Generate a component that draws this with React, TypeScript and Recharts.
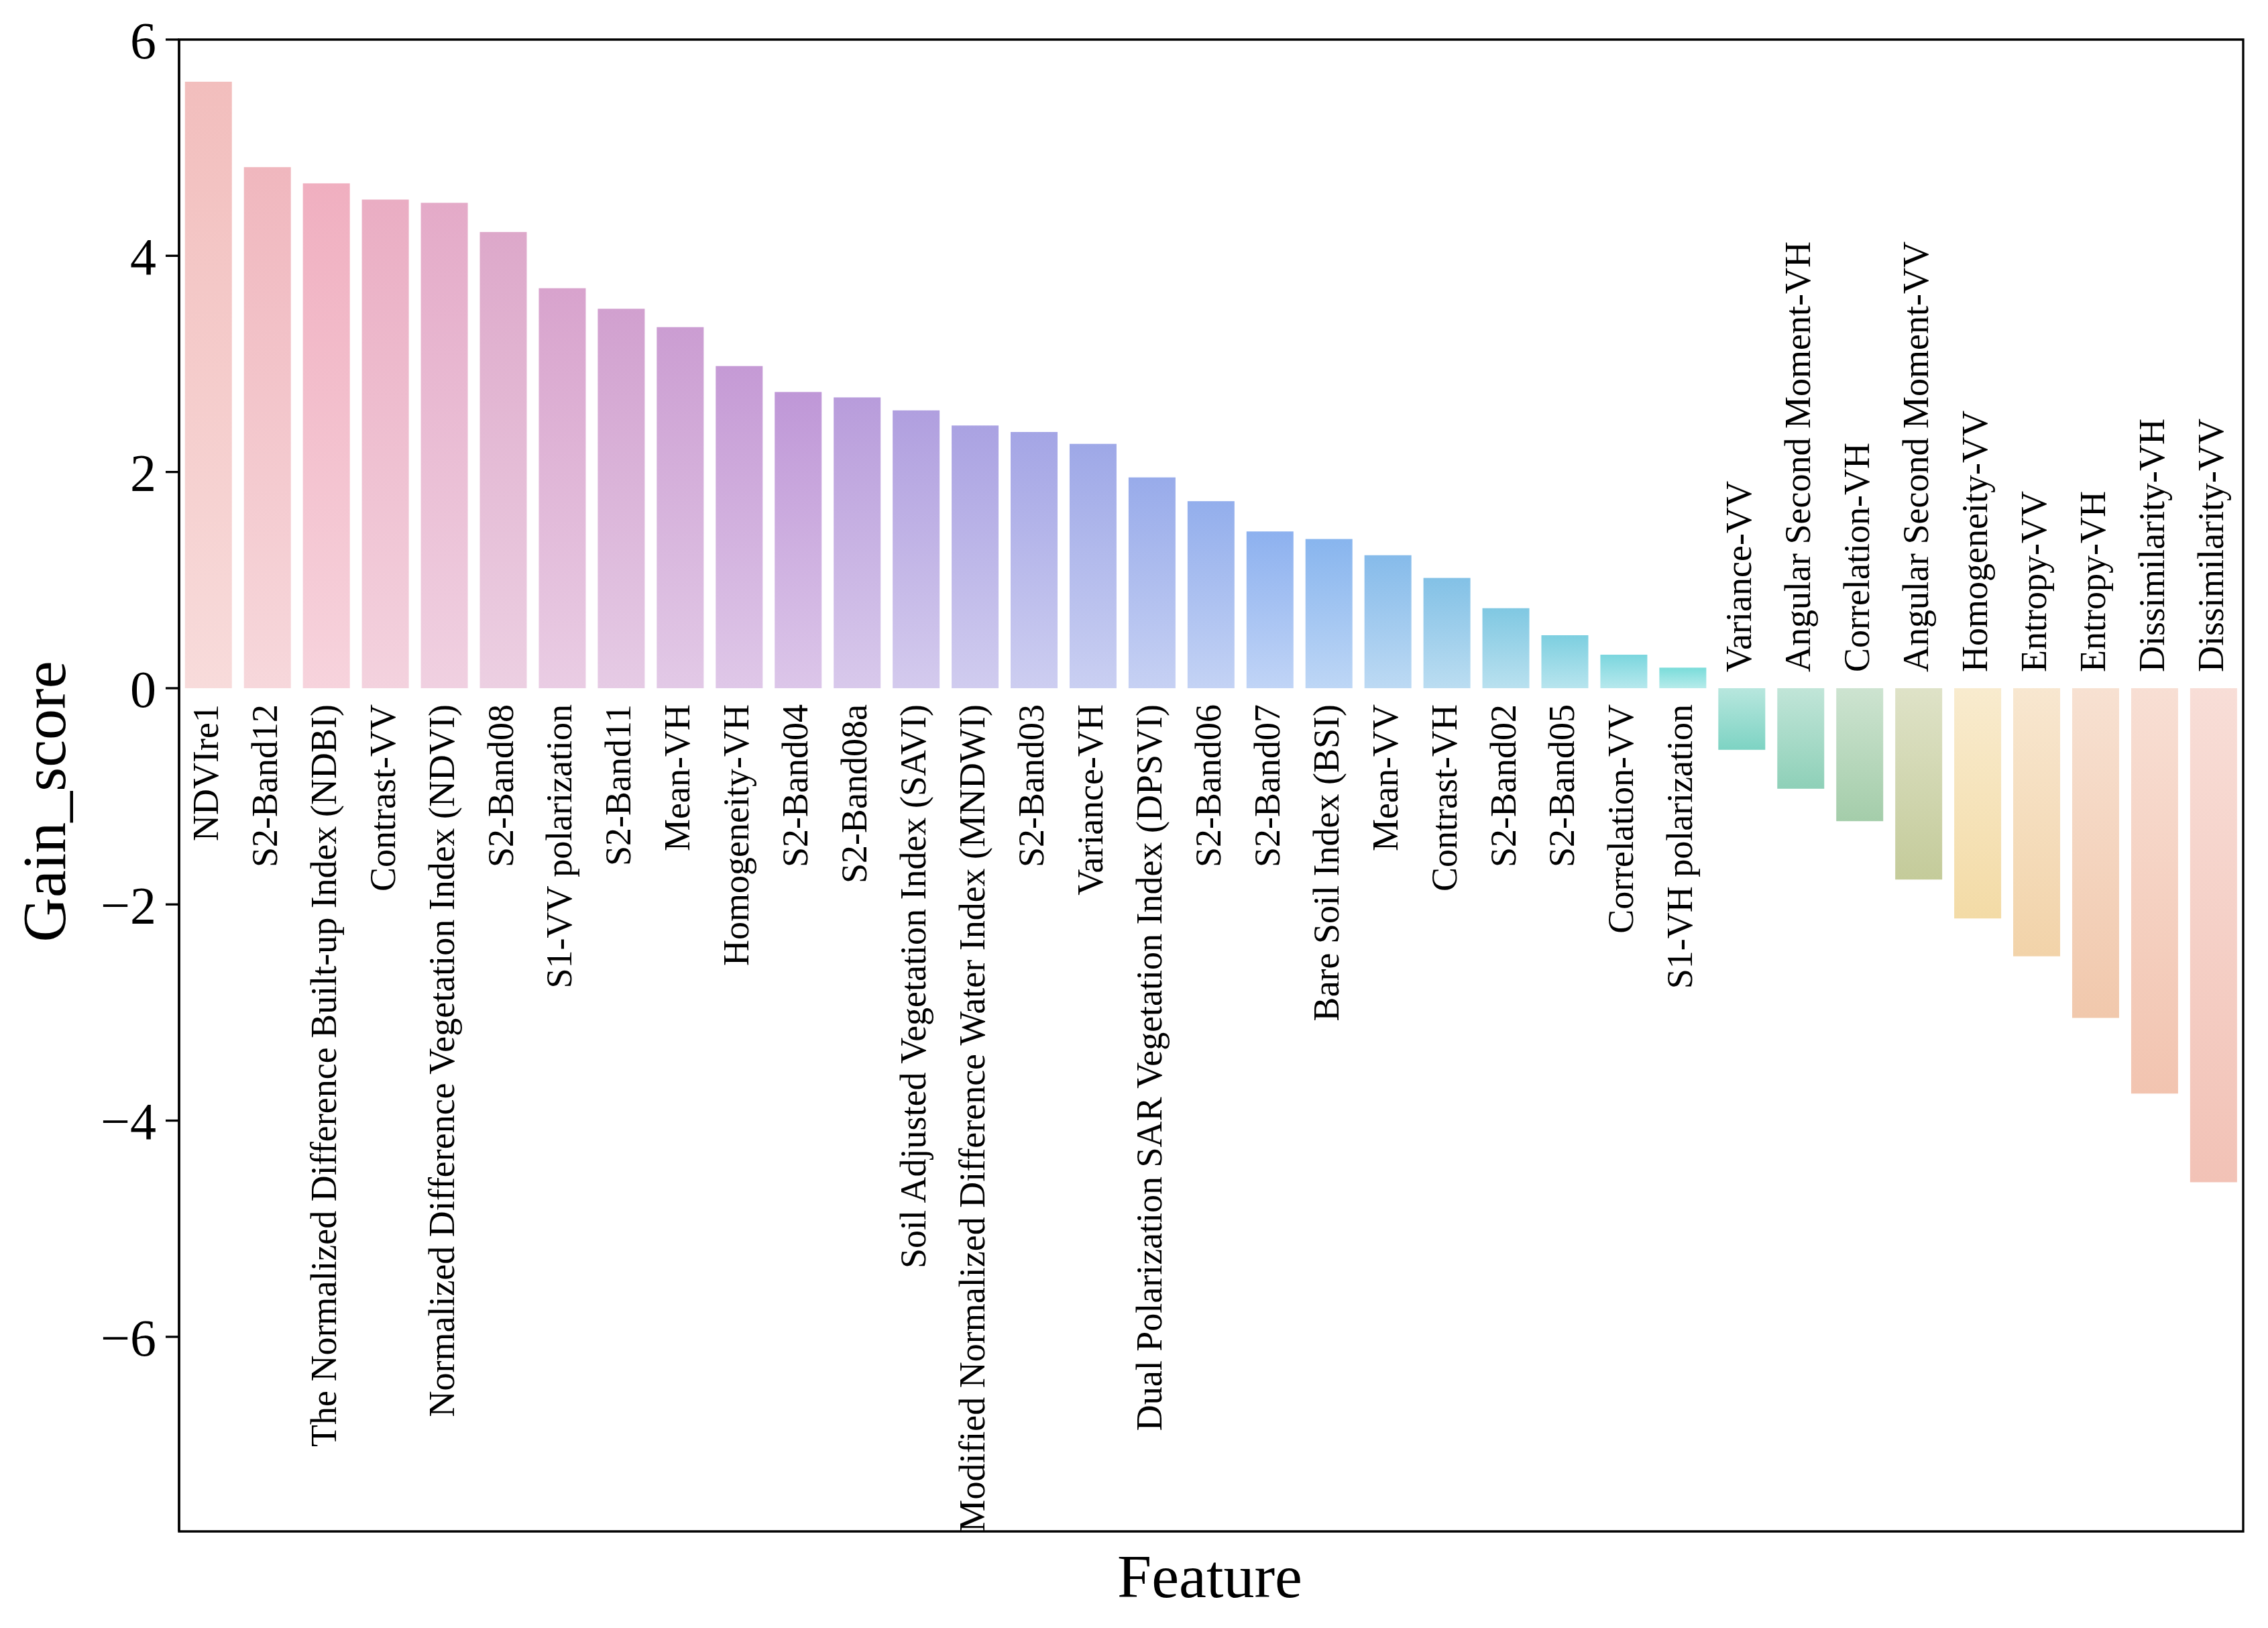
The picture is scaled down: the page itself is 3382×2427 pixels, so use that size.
import React from "react";
import { BarChart, Bar, XAxis, YAxis, ReferenceArea } from "recharts";

const FEATURES = [
  "NDVIre1",
  "S2-Band12",
  "The Normalized Difference Built-up Index (NDBI)",
  "Contrast-VV",
  "Normalized Difference Vegetation Index (NDVI)",
  "S2-Band08",
  "S1-VV polarization",
  "S2-Band11",
  "Mean-VH",
  "Homogeneity-VH",
  "S2-Band04",
  "S2-Band08a",
  "Soil Adjusted Vegetation Index (SAVI)",
  "Modified Normalized Difference Water Index (MNDWI)",
  "S2-Band03",
  "Variance-VH",
  "Dual Polarization SAR Vegetation Index (DPSVI)",
  "S2-Band06",
  "S2-Band07",
  "Bare Soil Index (BSI)",
  "Mean-VV",
  "Contrast-VH",
  "S2-Band02",
  "S2-Band05",
  "Correlation-VV",
  "S1-VH polarization",
  "Variance-VV",
  "Angular Second Moment-VH",
  "Correlation-VH",
  "Angular Second Moment-VV",
  "Homogeneity-VV",
  "Entropy-VV",
  "Entropy-VH",
  "Dissimilarity-VH",
  "Dissimilarity-VV",
];

const GAINS = [
  5.61, 4.82, 4.67, 4.52, 4.49, 4.22, 3.7, 3.51, 3.34, 2.98, 2.74, 2.69, 2.57, 2.43, 2.37, 2.26,
  1.95, 1.73, 1.45, 1.38, 1.23, 1.02, 0.74, 0.49, 0.31, 0.19, -0.57, -0.93, -1.23, -1.77, -2.13,
  -2.48, -3.05, -3.75, -4.57,
];

// colour at the outer end of each bar (fades toward the zero line)
const COLORS = [
  "#F2BEBD", "#F0B7BE", "#F0AFC0", "#EAADC3", "#E4AAC8", "#DDA8CA", "#D8A3CD", "#D1A0CF",
  "#CB9DD2", "#C59AD5", "#BF97D7", "#B89CDB", "#B09FDF", "#AAA2E2", "#A4A5E5", "#9EA8E7",
  "#98ABEA", "#93AEEC", "#8DB1EF", "#88B5EE", "#86BBEA", "#83C1E6", "#80C8E2", "#7DCFE0",
  "#7BD6DE", "#7ADCDA", "#7DD3C3", "#8ED0B8", "#A4CDAA", "#C4CB9A", "#F3DBA6", "#F2D3A9",
  "#F1C8AC", "#F2C4B0", "#F2C2B6",
];

const Y_TICKS = [-6, -4, -2, 0, 2, 4, 6];
const Y_DOMAIN = [-7.8, 6];

const FONT = "'Liberation Serif', 'Times New Roman', serif";

const data = FEATURES.map((feature, i) => ({ feature, gain: GAINS[i] }));

const GradientBar = (props: any) => {
  const { x, y, width, height, payload } = props;
  if (x == null || y == null) return null;
  const i = FEATURES.indexOf(payload.feature);
  const v = payload.gain;
  const y0 = Math.min(y, y + height);
  const y1 = Math.max(y, y + height);
  const zeroY = v >= 0 ? y1 : y0;
  const id = `barGrad${i}`;
  const cx = x + width / 2 + 14;
  const ly = v >= 0 ? zeroY + 24 : zeroY - 24;
  return (
    <g>
      <defs>
        <linearGradient id={id} x1="0" y1="0" x2="0" y2="1">
          <stop offset="0%" stopColor={COLORS[i]} stopOpacity={v >= 0 ? 1 : 0.55} />
          <stop offset="100%" stopColor={COLORS[i]} stopOpacity={v >= 0 ? 0.55 : 1} />
        </linearGradient>
      </defs>
      <rect x={x} y={y0} width={width} height={y1 - y0} fill={`url(#${id})`} />
      <text
        x={cx}
        y={ly}
        transform={`rotate(-90 ${cx} ${ly})`}
        textAnchor={v >= 0 ? "end" : "start"}
        fontSize={54}
        fontFamily={FONT}
        fill="#000"
      >
        {payload.feature}
      </text>
    </g>
  );
};

const fmt = (v: number) => (v < 0 ? `\u2212${Math.abs(v)}` : `${v}`);

export default function App() {
  return (
    <div style={{ width: 3374, height: 2419 }}>
      <BarChart
        width={3374}
        height={2419}
        data={data}
        margin={{ top: 51, right: 37, bottom: 144, left: 0 }}
        barCategoryGap="10%"
      >
        <XAxis dataKey="feature" hide />
        <YAxis
          type="number"
          domain={Y_DOMAIN}
          ticks={Y_TICKS}
          allowDataOverflow
          width={259}
          tickSize={20}
          tickMargin={14}
          tickFormatter={fmt}
          tick={{ fontSize: 78, fill: "#000", fontFamily: FONT }}
          axisLine={{ stroke: "#000", strokeWidth: 3.3 }}
          tickLine={{ stroke: "#000", strokeWidth: 3.3 }}
          label={() => (
            <text
              x={89}
              y={1187}
              transform="rotate(-90 89 1187)"
              textAnchor="middle"
              fontSize={92}
              fontFamily={FONT}
              fill="#000"
            >
              Gain_score
            </text>
          )}
        />
        <Bar dataKey="gain" shape={GradientBar} isAnimationActive={false} />
        <ReferenceArea
          y1={Y_DOMAIN[0]}
          y2={Y_DOMAIN[1]}
          fill="none"
          fillOpacity={0}
          stroke="#000"
          strokeWidth={3.3}
          ifOverflow="visible"
          label={() => (
            <text x={1796} y={2373} textAnchor="middle" fontSize={92} fontFamily={FONT} fill="#000">
              Feature
            </text>
          )}
        />
      </BarChart>
    </div>
  );
}
